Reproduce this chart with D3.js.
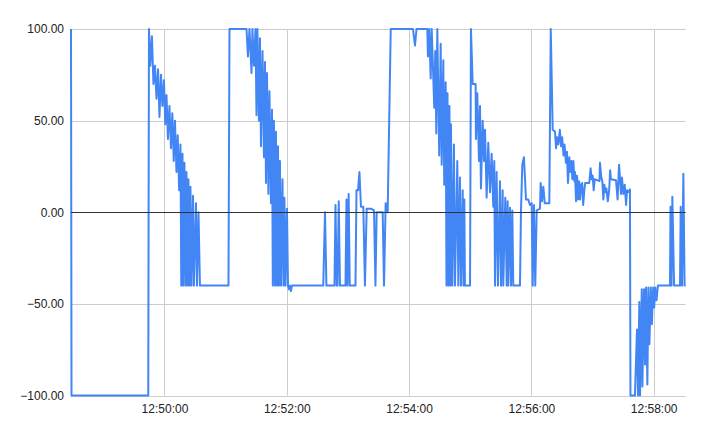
<!DOCTYPE html>
<html>
<head>
<meta charset="utf-8">
<script src="https://cdn.jsdelivr.net/npm/d3@7"></script>
<style>
  body { margin: 0; background: #fff; }
  svg text { font-family: Arial, "Liberation Sans", sans-serif; font-size: 12px; fill: #222; }
</style>
</head>
<body>
<div id="chart"></div>
<script>
// readings: [seconds after 12:48:00, value]
var startPart = [
  [28.3, 100], [28.8, -100], [104.1, -100], [104.8, 100]
];
var firstSlide = [
  [106.1, 80], [107.7, 96], [109.2, 70], [110.7, 80], [112.2, 62], [113.7, 78],
  [115.1, 52], [116.6, 75], [118.0, 58], [119.5, 72], [120.8, 48], [122.0, 64],
  [123.4, 40], [124.9, 58], [126.4, 35], [127.7, 54], [129.1, 28], [130.3, 50],
  [131.8, 22], [133.0, 42], [134.4, 12], [135.7, 37], [136.5, -40], [137.7, 32],
  [138.4, -40], [139.6, 27], [140.6, -40], [141.6, 22], [142.6, -40], [143.5, 18],
  [144.5, -40], [145.5, 14], [146.5, -40], [148.0, 9], [148.9, -40], [150.9, 5],
  [151.9, -40], [153.4, 0], [154.8, -40], [182.8, -40], [183.8, 100]
];
var secondSlide = [
  [200.5, 100], [201.9, 85], [203.4, 100], [205.4, 76], [206.3, 100], [207.8, 80],
  [209.3, 100], [210.3, 53], [211.2, 100], [212.7, 50], [213.7, 95], [214.7, 36],
  [216.2, 88], [217.6, 30], [218.6, 82], [219.6, 16], [220.6, 76], [222.0, 10],
  [223.0, 66], [224.5, 5], [225.5, 56], [226.3, -40], [227.4, 50], [228.4, -40],
  [229.4, 44], [230.4, -40], [231.4, 36], [232.3, -40], [233.3, 28], [234.3, -40],
  [235.8, 18], [236.8, -40], [237.7, 8], [238.7, -40], [240.2, 2], [241.2, -40],
  [242.2, -42], [243.1, -40], [244.1, -43], [245.1, -40]
];
var flatSpikes = [
  [275.8, -40], [277.5, 0], [278.9, -40], [286.8, -40], [287.8, 4], [289.0, -40],
  [289.8, -40], [291.0, 6], [292.2, -40], [297.6, -40], [298.6, 7], [299.6, -40],
  [300.7, 10], [301.8, -40], [307.4, -40], [308.4, 12], [309.9, 12], [311.3, 22],
  [312.8, 3], [315.1, 3], [316.7, -40], [318.4, 2], [322.6, 2], [325.6, 1],
  [327.0, -40], [328.2, 0], [334.1, 0], [335.4, -40], [337.0, 5], [339.0, 0],
  [342.0, 100]
];
var thirdSlide = [
  [363.8, 100], [365.8, 91], [367.3, 100], [377.9, 100], [378.5, 85], [379.8, 100],
  [381.2, 73], [382.2, 100], [384.7, 57], [385.7, 88], [386.7, 43], [387.7, 100],
  [389.6, 31], [391.0, 92], [392.0, 26], [393.6, 83], [394.5, 15], [395.9, 71],
  [396.7, -40], [397.7, 65], [398.7, -40], [399.6, 58], [400.4, -40], [401.1, 48],
  [402.4, -40], [404.0, 37], [405.0, -40], [407.3, 28], [408.3, -40], [409.9, 19],
  [410.9, -40], [412.6, 12], [413.4, -40], [414.2, 7], [414.8, -40], [419.8, -40],
  [420.7, 100]
];
var fourthSlide = [
  [422.4, 70], [425.3, 70], [425.6, 40], [426.9, 65], [428.6, 28], [429.6, 58],
  [430.5, 13], [432.2, 50], [433.5, 28], [434.5, 45], [436.1, 8], [437.7, 38],
  [439.4, 11], [441.0, 32], [442.6, 3], [443.6, 28], [444.3, -40], [445.9, 22],
  [447.2, -40], [449.2, 17], [450.2, -40], [451.8, 12], [452.4, -40], [454.4, 8],
  [455.8, -40], [456.7, 6], [457.3, -40], [459.0, 2.5], [460.0, -40], [461.3, 1],
  [462.2, -40], [468.8, -40], [469.8, 1], [471.1, 26], [472.7, 30], [474.7, 7],
  [476.9, 7], [478.6, 4], [480.3, 5], [481.3, -40], [482.5, 4], [483.8, -40],
  [485.2, 1], [488.4, 2], [489.1, 16], [490.4, 6], [491.7, 14], [493.1, 5],
  [497.6, 5], [499.0, 100]
];
var noisyDrift = [
  [500.9, 45], [503.2, 44], [504.2, 35], [505.2, 41], [506.5, 37], [507.9, 45],
  [509.2, 36], [510.2, 41], [511.5, 31], [512.5, 37], [513.9, 27], [514.9, 33],
  [515.9, 16], [517.2, 30], [518.2, 22], [519.2, 28], [520.2, 18], [521.2, 28],
  [522.2, 17], [522.8, 22], [523.8, 6], [524.8, 20], [525.8, 7], [526.8, 17],
  [527.8, 7], [528.8, 15], [529.8, 16], [530.8, 4], [532.1, 13], [532.8, 16],
  [536.8, 16], [538.1, 24], [539.1, 18], [540.1, 20], [541.1, 12], [542.1, 18],
  [546.8, 17], [547.3, 27], [548.6, 19], [549.6, 17], [550.6, 7], [551.6, 15],
  [552.6, 11], [553.6, 13], [555.0, 6], [556.3, 12], [557.3, 23], [558.0, 18],
  [563.0, 17.5], [564.6, 7], [566.0, 26], [566.9, 19], [567.9, 10], [568.9, 19],
  [570.2, 10], [571.6, 15], [572.9, 4], [573.9, 12], [575.6, 11], [576.7, 12.5]
];
var endPart = [
  [577.2, -100], [581.6, -100], [583.6, -64], [584.6, -100], [585.9, -49], [586.6, -100],
  [588.3, -42], [588.9, -95], [590.5, -42], [591.5, -83], [592.5, -41], [593.8, -94],
  [594.8, -41], [595.8, -72], [597.2, -41], [598.2, -61], [599.5, -41], [600.5, -52],
  [601.5, -41], [602.8, -48], [604.1, -40], [616.0, -40], [616.5, 3], [617.5, -40],
  [618.3, 8.5], [620.0, -40], [625.8, -40], [626.5, 3], [627.8, -40], [629.1, 21],
  [630.3, -40], [631.4, -40]
];

var xTickLabels = ["12:50:00", "12:52:00", "12:54:00", "12:56:00", "12:58:00"];
var yTicks = [-100, -50, 0, 50, 100];
var xStartSec = 28.3, xEndSec = 631.4;

var width = 707, height = 438;
var margin = {top: 29, right: 21.3, bottom: 42.4, left: 71};

var base = new Date(2020, 0, 1, 12, 48, 0);
function toTime(s) { return new Date(base.getTime() + s * 1000); }
var parseTick = d3.timeParse("%H:%M:%S");
function tickTime(str) {
  var p = parseTick(str);
  return new Date(2020, 0, 1, p.getHours(), p.getMinutes(), p.getSeconds());
}

var readings = [].concat(startPart, firstSlide, secondSlide, flatSpikes,
                         thirdSlide, fourthSlide, noisyDrift, endPart);

var svg = d3.select("#chart").append("svg")
    .attr("width", width).attr("height", height);

var x = d3.scaleTime()
    .domain([toTime(xStartSec), toTime(xEndSec)])
    .range([margin.left, width - margin.right]);
var y = d3.scaleLinear()
    .domain([-100, 100])
    .range([height - margin.bottom, margin.top]);

// grid
svg.append("g").selectAll("line.h")
  .data(yTicks.filter(function(d) { return d !== 0; }))
  .enter().append("line")
    .attr("x1", margin.left).attr("x2", width - margin.right)
    .attr("y1", function(d) { return Math.round(y(d)) + 0.5; })
    .attr("y2", function(d) { return Math.round(y(d)) + 0.5; })
    .attr("stroke", "#cccccc").attr("stroke-width", 1);

svg.append("g").selectAll("line.v")
  .data(xTickLabels)
  .enter().append("line")
    .attr("x1", function(d) { return Math.round(x(tickTime(d))) + 0.5; })
    .attr("x2", function(d) { return Math.round(x(tickTime(d))) + 0.5; })
    .attr("y1", margin.top).attr("y2", height - margin.bottom)
    .attr("stroke", "#cccccc").attr("stroke-width", 1);

// y labels
var yAxis = d3.axisLeft(y).tickValues(yTicks).tickSize(0).tickPadding(7)
    .tickFormat(d3.format(".2f"));
var gy = svg.append("g").attr("transform", "translate(" + margin.left + ",0)").call(yAxis);
gy.select(".domain").remove();
gy.selectAll("text").style("font-size", "12px").attr("fill", "#222");

// x labels
var xAxis = d3.axisBottom(x).tickValues(xTickLabels.map(tickTime)).tickSize(0).tickPadding(9)
    .tickFormat(d3.timeFormat("%H:%M:%S"));
var gx = svg.append("g").attr("transform", "translate(0," + (height - margin.bottom) + ")").call(xAxis);
gx.select(".domain").remove();
gx.selectAll("text").style("font-size", "12px").attr("fill", "#222");

// series
var line = d3.line()
    .x(function(d) { return x(toTime(d[0])); })
    .y(function(d) { return y(d[1]); });

svg.append("path")
    .datum(readings)
    .attr("d", line)
    .attr("fill", "none")
    .attr("stroke", "#4285f4")
    .attr("stroke-width", 2)
    .attr("stroke-linejoin", "round");

// zero baseline
svg.append("line")
    .attr("x1", margin.left).attr("x2", width - margin.right)
    .attr("y1", Math.round(y(0)) + 0.5).attr("y2", Math.round(y(0)) + 0.5)
    .attr("stroke", "#333333").attr("stroke-width", 1);
</script>
</body>
</html>
